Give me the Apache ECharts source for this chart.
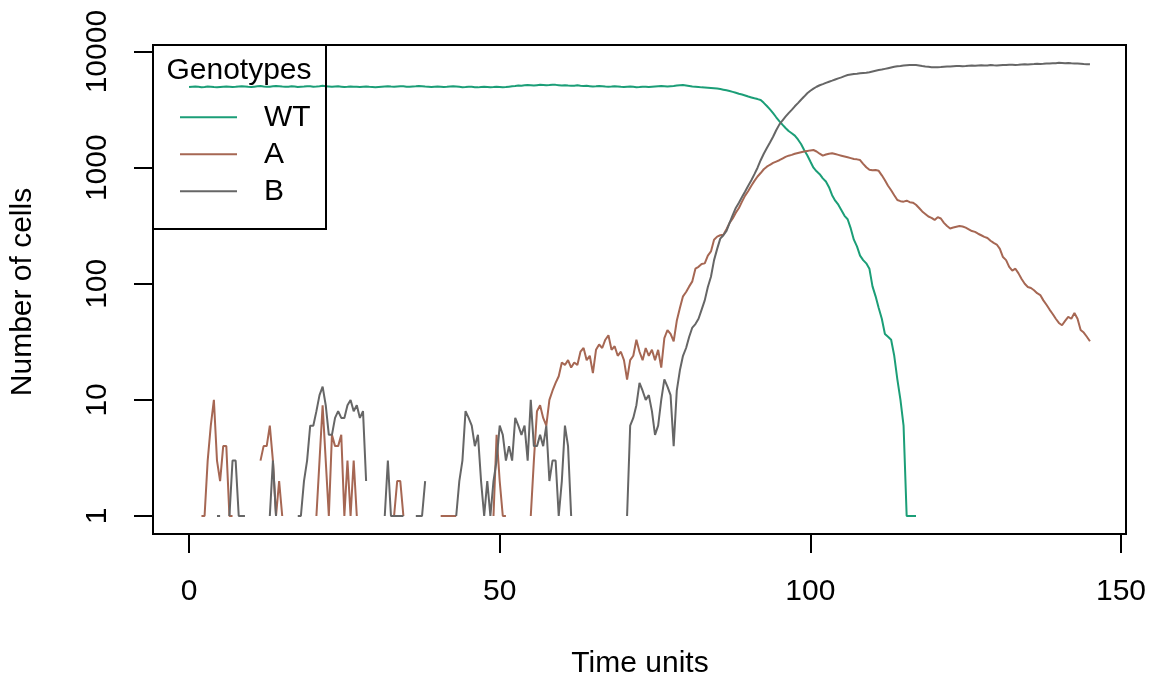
<!DOCTYPE html>
<html><head><meta charset="utf-8">
<script src="https://cdn.jsdelivr.net/npm/echarts@6/dist/echarts.min.js"></script>
<style>html,body{margin:0;padding:0;background:#fff}#c{width:1154px;height:682px}</style>
</head><body><div id="c"></div>
<script>
const seriesNames = ['WT', 'A', 'B'];
const seriesColors = ['#1B9E77', '#A66753', '#666666'];
const timeStep = 0.5; // sampling step of the recorded time points
const xTicks = [0, 50, 100, 150];
const yTicks = [1, 10, 100, 1000, 10000];
const n = null;

// WT: t = 0 .. 117 (step 0.5)
const wtCells = [
  4950,4980,5000,4970,4940,4960,5010,4990,4950,4930,4960,4990,5010,4980,4950,4970,5000,5030,5010,4980,
  4960,4990,5020,5050,5010,4980,4990,5030,5060,5040,5000,4970,4990,5020,5000,4960,4990,5010,5040,5020,
  4990,5000,5030,5070,5040,5010,4980,5000,5020,4990,4960,4980,5010,4990,4970,4950,4980,5000,4970,4950,
  4930,4960,4990,5010,5030,5000,4980,5010,5040,5020,4990,4970,5000,5020,5050,5030,5000,4980,4960,4990,
  5010,4980,4950,4970,5000,5020,5000,4970,4940,4960,4990,4970,4940,4920,4950,4980,4960,4930,4950,4980,
  4960,4930,4950,4990,5030,5060,5100,5080,5120,5150,5130,5100,5140,5180,5160,5120,5150,5190,5170,5140,
  5110,5140,5100,5070,5090,5120,5080,5050,5070,5040,5010,5030,5060,5030,5000,4980,5000,5030,5010,4980,
  4960,4980,5000,4970,4940,4960,4990,4970,4950,4980,5010,5040,5060,5030,5000,5030,5060,5100,5130,5150,
  5100,5050,5000,4980,4950,4920,4900,4880,4860,4830,4800,4760,4700,4640,4570,4500,4420,4340,4270,4190,
  4100,4030,3960,3900,3830,3620,3400,3180,2950,2720,2520,2350,2200,2070,1980,1890,1750,1600,1420,1280,
  1130,1000,930,880,810,760,680,580,520,480,430,385,360,300,240,210,175,160,150,135,
  95,78,62,50,37,35,33,24,15,10,6,1,1,1,1
];

// A: t = 0 .. 145 (step 0.5), null = no cells
const aCells = [
  n,n,n,n,1,1,3,6,10,3,2,4,4,1,1,n,n,n,n,n,
  n,n,n,3,4,4,6,3,1,2,1,n,n,n,n,n,n,n,n,n,
  n,1,3,9,3,1,5,4,4,5,1,3,1,3,1,n,n,n,n,n,
  n,n,n,n,n,1,1,2,2,1,n,n,n,n,n,n,n,n,n,n,
  n,1,1,1,1,1,1,n,n,n,n,n,n,n,n,n,n,n,1,5,
  2,1,1,n,n,n,n,n,n,n,1,3,8,9,7,6,10,12,14,16,
  21,20,22,19,21,20,26,28,22,24,17,27,30,28,33,36,27,29,24,26,
  22,15,22,24,33,26,22,28,24,27,22,27,19,34,40,37,32,48,62,78,
  85,95,105,135,140,148,150,175,190,240,255,262,265,295,335,365,410,450,510,575,
  630,700,770,840,900,970,1020,1060,1100,1130,1160,1200,1240,1270,1290,1320,1340,1360,1380,1395,
  1410,1420,1380,1320,1270,1300,1320,1330,1310,1290,1270,1250,1230,1210,1190,1180,1164,1080,1010,960,
  950,955,940,860,780,700,640,580,527,515,510,520,505,500,480,450,420,400,380,370,
  355,375,365,335,315,300,305,310,315,312,305,295,285,280,270,262,254,248,235,225,
  218,200,170,160,140,130,135,123,110,100,94,92,88,83,80,72,66,60,55,50,
  46,44,48,52,50,56,50,40,38,35,32
];

// B: t = 0 .. 145 (step 0.5), null = no cells
const bCells = [
  n,n,n,n,n,n,n,n,n,1,1,n,n,1,3,3,1,1,1,n,
  n,n,n,n,n,n,1,3,1,n,n,n,n,n,n,1,1,2,3,6,
  6,8,11,13,9,5,5,7,8,7,7,9,10,8,9,7,8,2,n,n,
  n,n,n,1,3,1,1,1,1,1,n,n,n,1,1,1,2,n,n,n,
  n,n,n,n,n,n,1,2,3,8,7,6,4,5,2,1,2,1,2,3,
  6,5,3,4,3,7,6,5,6,3,10,4,4,5,4,6,2,3,3,1,
  2,6,4,1,n,n,n,n,n,n,n,n,n,n,n,n,n,n,n,n,
  n,1,6,7,9,14,12,10,11,8,5,6,10,15,13,11,4,12,18,24,
  28,35,42,45,50,60,72,94,115,160,200,245,262,285,335,390,450,500,560,625,
  700,780,880,1000,1160,1320,1480,1650,1850,2100,2350,2550,2750,2950,3150,3380,3600,3850,4100,4380,
  4600,4800,4980,5130,5250,5380,5500,5620,5750,5880,6000,6150,6280,6350,6420,6450,6500,6550,6580,6650,
  6750,6850,6950,7000,7100,7200,7300,7400,7480,7520,7580,7620,7660,7680,7650,7600,7520,7450,7400,7350,
  7330,7350,7380,7420,7450,7430,7480,7500,7520,7480,7500,7550,7580,7560,7600,7620,7580,7600,7650,7620,
  7600,7640,7680,7650,7700,7720,7680,7700,7750,7780,7760,7800,7820,7850,7830,7860,7900,7880,7920,7950,
  8000,7980,7950,7970,7920,7900,7880,7850,7820,7800,7780
];

const cellsBySeries = [wtCells, aCells, bCells];
const FONT = "'Liberation Sans', Arial, sans-serif";
const FS = 30;

function toPairs(vals) {
  return vals.map((v, i) => [i * timeStep, v == null ? '-' : v]);
}

const chart = echarts.init(document.getElementById('c'), null, {renderer: 'canvas'});
chart.setOption({
  animation: false,
  backgroundColor: '#fff',
  grid: {
    left: 153, right: 28, top: 45, bottom: 148,
    show: true, borderColor: '#000', borderWidth: 2, backgroundColor: 'transparent'
  },
  xAxis: {
    type: 'value', min: -5.8, max: 150.8,
    axisLine: {show: false, onZero: false},
    splitLine: {show: false},
    axisTick: {show: true, customValues: xTicks, length: 19, inside: false,
      lineStyle: {color: '#000', width: 2}},
    axisLabel: {customValues: xTicks, fontSize: FS, fontFamily: FONT, color: '#000', margin: 43}
  },
  yAxis: {
    type: 'log', logBase: 10, min: 0.7, max: 11400,
    axisLine: {show: false, onZero: false},
    splitLine: {show: false},
    axisTick: {show: true, customValues: yTicks, length: 19, inside: false,
      lineStyle: {color: '#000', width: 2}},
    axisLabel: {customValues: yTicks, fontSize: FS, fontFamily: FONT, color: '#000',
      rotate: 90, margin: 40, formatter: v => String(Math.round(v))}
  },
  legend: {
    left: 180, top: 98.8, orient: 'vertical', padding: 0, itemGap: 0,
    itemWidth: 57, itemHeight: 2, icon: 'rect', selectedMode: false,
    textStyle: {fontSize: FS, fontFamily: FONT, color: '#000', lineHeight: 37, padding: [0, 0, 0, 22]},
    data: seriesNames
  },
  graphic: [
    {type: 'rect', shape: {x: 153, y: 45, width: 173, height: 184}, silent: true,
      style: {fill: 'none', stroke: '#000', lineWidth: 2}, z: 10},
    {type: 'text', x: 239, y: 71, silent: true,
      style: {text: 'Genotypes', fontSize: FS, fontFamily: FONT, fill: '#000',
        align: 'center', verticalAlign: 'middle', textAlign: 'center', textVerticalAlign: 'middle'}},
    {type: 'text', x: 640, y: 664, silent: true,
      style: {text: 'Time units', fontSize: FS, fontFamily: FONT, fill: '#000',
        align: 'center', verticalAlign: 'middle', textAlign: 'center', textVerticalAlign: 'middle'}},
    {type: 'text', x: 23, y: 292, rotation: Math.PI / 2, silent: true,
      style: {text: 'Number of cells', fontSize: FS, fontFamily: FONT, fill: '#000',
        align: 'center', verticalAlign: 'middle', textAlign: 'center', textVerticalAlign: 'middle'}}
  ],
  series: seriesNames.map((name, k) => ({
    name: name, type: 'line', showSymbol: false, symbol: 'none',
    connectNulls: false, clip: true,
    color: seriesColors[k],
    lineStyle: {color: seriesColors[k], width: 2},
    data: toPairs(cellsBySeries[k])
  }))
});
</script></body></html>
